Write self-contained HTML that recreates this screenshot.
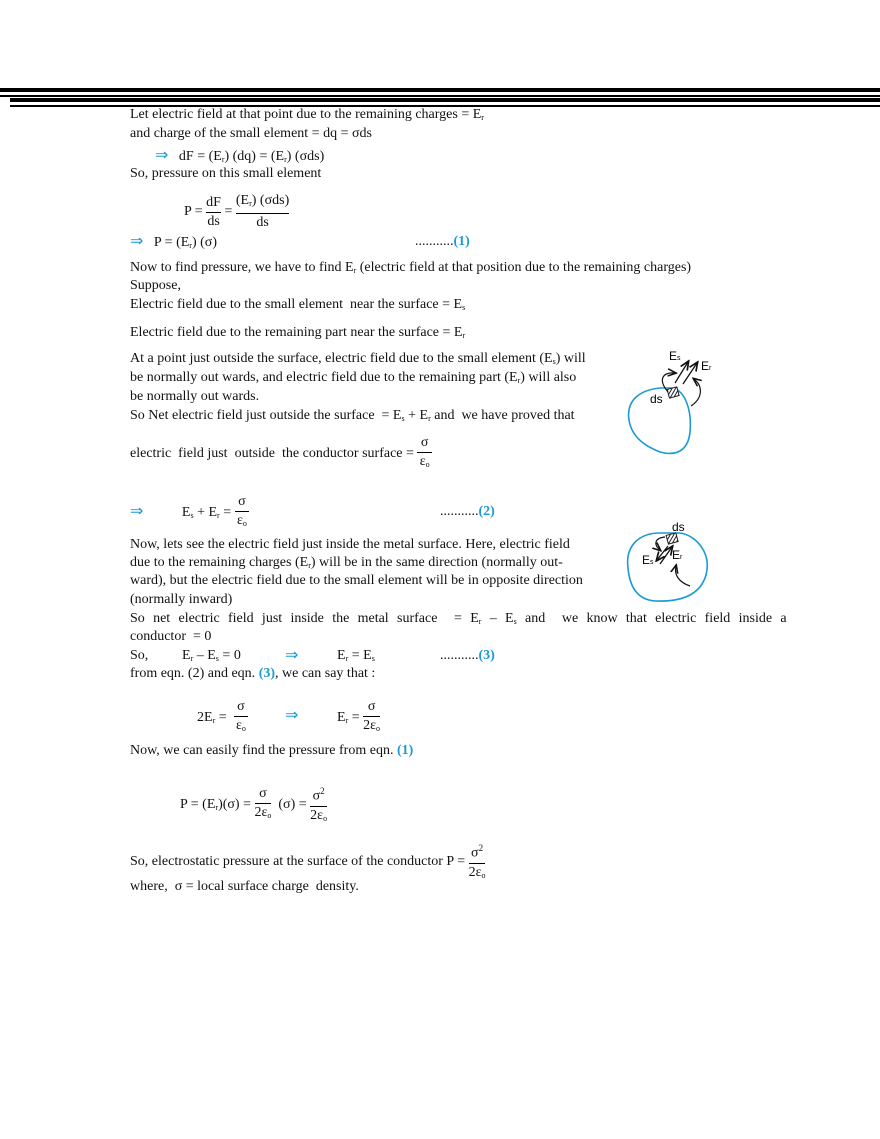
<!DOCTYPE html>
<html><head><meta charset="utf-8"><style>
body{margin:0;width:880px;height:1139px;background:#fff;position:relative;overflow:hidden;font-family:"Liberation Serif",serif;font-size:14px;color:#111}
.l{position:absolute;white-space:nowrap;line-height:16px}
.b{color:#1a9ad6;font-weight:bold}
.bar{position:absolute;background:#000}
sub{font-size:8px;vertical-align:-2px}
sup{font-size:9px}
.fr{display:inline-block;text-align:center;vertical-align:middle}
.fr span{display:block;line-height:18px}
.fr .n{border-bottom:1px solid #000}
.ar{color:#1a9ad6;font-size:16px}
</style></head><body>
<div class="bar" style="left:0;top:88px;width:880px;height:4px"></div>
<div class="bar" style="left:0;top:95px;width:880px;height:1.5px"></div>
<div class="bar" style="left:10px;top:98px;width:870px;height:4px"></div>
<div class="bar" style="left:10px;top:105px;width:870px;height:1.5px"></div>

<div class="l" style="left:130px;top:107px">Let electric field at that point due to the remaining charges = E<sub>r</sub></div>
<div class="l" style="left:130px;top:126px">and charge of the small element = dq = σds</div>
<div class="l" style="left:155px;top:148px"><span class="ar">⇒</span> &nbsp; dF = (E<sub>r</sub>) (dq) = (E<sub>r</sub>) (σds)</div>
<div class="l" style="left:130px;top:166px">So, pressure on this small element</div>
<div class="l" style="left:184px;top:192px">P = <span class="fr"><span class="n">dF</span><span>ds</span></span> = <span class="fr"><span class="n">(E<sub>r</sub>) (σds)</span><span>ds</span></span></div>
<div class="l" style="left:130px;top:234px"><span class="ar">⇒</span> &nbsp; P = (E<sub>r</sub>) (σ)</div>
<div class="l" style="left:415px;top:234px">...........<span class="b">(1)</span></div>
<div class="l" style="left:130px;top:260px">Now to find pressure, we have to find E<sub>r</sub> (electric field at that position due to the remaining charges)</div>
<div class="l" style="left:130px;top:278px">Suppose,</div>
<div class="l" style="left:130px;top:297px">Electric field due to the small element &nbsp;near the surface = E<sub>s</sub></div>
<div class="l" style="left:130px;top:325px">Electric field due to the remaining part near the surface = E<sub>r</sub></div>
<div class="l" style="left:130px;top:351px">At a point just outside the surface, electric field due to the small element (E<sub>s</sub>) will</div>
<div class="l" style="left:130px;top:370px">be normally out wards, and electric field due to the remaining part (E<sub>r</sub>) will also</div>
<div class="l" style="left:130px;top:389px">be normally out wards.</div>
<div class="l" style="left:130px;top:408px">So Net electric field just outside the surface &nbsp;= E<sub>s</sub> + E<sub>r</sub> and &nbsp;we have proved that</div>
<div class="l" style="left:130px;top:434px">electric &nbsp;field just &nbsp;outside &nbsp;the conductor surface = <span class="fr"><span class="n">&nbsp;σ&nbsp;</span><span>ε<sub>o</sub></span></span></div>
<div class="l" style="left:130px;top:493px"><span class="ar">⇒</span> &nbsp; &nbsp; &nbsp; &nbsp; &nbsp; E<sub>s</sub> + E<sub>r</sub> = <span class="fr"><span class="n">&nbsp;σ&nbsp;</span><span>ε<sub>o</sub></span></span></div>
<div class="l" style="left:440px;top:504px">...........<span class="b">(2)</span></div>
<div class="l" style="left:130px;top:537px">Now, lets see the electric field just inside the metal surface. Here, electric field</div>
<div class="l" style="left:130px;top:555px">due to the remaining charges (E<sub>r</sub>) will be in the same direction (normally out-</div>
<div class="l" style="left:130px;top:573px">ward), but the electric field due to the small element will be in opposite direction</div>
<div class="l" style="left:130px;top:592px">(normally inward)</div>
<div class="l" style="left:130px;top:611px;word-spacing:4.8px">So net electric field just inside the metal surface &nbsp;= E<sub>r</sub> – E<sub>s</sub> and &nbsp;we know that electric field inside a</div>
<div class="l" style="left:130px;top:629px">conductor &nbsp;= 0</div>
<div class="l" style="left:130px;top:648px">So,</div>
<div class="l" style="left:182px;top:648px">E<sub>r</sub> – E<sub>s</sub> = 0</div>
<div class="l" style="left:285px;top:648px"><span class="ar">⇒</span></div>
<div class="l" style="left:337px;top:648px">E<sub>r</sub> = E<sub>s</sub></div>
<div class="l" style="left:440px;top:648px">...........<span class="b">(3)</span></div>
<div class="l" style="left:130px;top:666px">from eqn. (2) and eqn. <span class="b">(3)</span>, we can say that :</div>
<div class="l" style="left:197px;top:698px">2E<sub>r</sub> = &nbsp;<span class="fr"><span class="n">&nbsp;σ&nbsp;</span><span>ε<sub>o</sub></span></span></div>
<div class="l" style="left:285px;top:708px"><span class="ar">⇒</span></div>
<div class="l" style="left:337px;top:698px">E<sub>r</sub> = <span class="fr"><span class="n">&nbsp;σ&nbsp;</span><span>2ε<sub>o</sub></span></span></div>
<div class="l" style="left:130px;top:743px">Now, we can easily find the pressure from eqn. <span class="b">(1)</span></div>
<div class="l" style="left:180px;top:782px">P = (E<sub>r</sub>)(σ) = <span class="fr"><span class="n">&nbsp;σ&nbsp;</span><span>2ε<sub>o</sub></span></span> &nbsp;(σ) = <span class="fr"><span class="n">σ<sup>2</sup></span><span>2ε<sub>o</sub></span></span></div>
<div class="l" style="left:130px;top:839px">So, electrostatic pressure at the surface of the conductor P = <span class="fr"><span class="n">σ<sup>2</sup></span><span>2ε<sub>o</sub></span></span></div>
<div class="l" style="left:130px;top:879px">where, &nbsp;σ = local surface charge &nbsp;density.</div>

<svg style="position:absolute;left:0;top:0" width="880" height="1139">
<defs><marker id="a" markerWidth="8" markerHeight="8" refX="6" refY="4" orient="auto"><path d="M0,1 L7,4 L0,7" fill="none" stroke="#111" stroke-width="1.3"/></marker>
<pattern id="h" width="3" height="3" patternUnits="userSpaceOnUse" patternTransform="rotate(45)"><rect width="3" height="3" fill="#fff"/><line x1="0" y1="0" x2="0" y2="3" stroke="#222" stroke-width="2"/></pattern></defs>
<path d="M660,388 C640,390 626,400 629,420 C632,440 650,448 660,452 C675,456 688,452 690,432 C692,410 685,390 672,388 Z" fill="none" stroke="#1a9ad6" stroke-width="1.6"/>
<rect x="668" y="388" width="10" height="9" fill="url(#h)" stroke="#222" stroke-width="1" transform="rotate(-15 673 392)"/>
<text x="650" y="403" font-family="Liberation Sans" font-size="12">ds</text>
<text x="669" y="360" font-family="Liberation Sans" font-size="12">E<tspan font-size="7">s</tspan></text>
<text x="701" y="370" font-family="Liberation Sans" font-size="12">E<tspan font-size="7">r</tspan></text>
<line x1="675" y1="383" x2="688" y2="362" stroke="#111" stroke-width="1.3" marker-end="url(#a)"/>
<line x1="683" y1="384" x2="697" y2="363" stroke="#111" stroke-width="1.3" marker-end="url(#a)"/>
<path d="M668,392 C658,380 662,372 675,373" fill="none" stroke="#111" stroke-width="1.2" marker-end="url(#a)"/>
<path d="M691,406 C703,398 703,386 694,379" fill="none" stroke="#111" stroke-width="1.2" marker-end="url(#a)"/>
<path d="M660,533 C640,533 625,545 628,568 C630,590 640,600 655,601 C680,602 700,596 706,575 C712,552 695,535 680,533 Z" fill="none" stroke="#1a9ad6" stroke-width="1.6"/>
<rect x="667" y="534" width="10" height="9" fill="url(#h)" stroke="#222" stroke-width="1" transform="rotate(-15 672 538)"/>
<text x="672" y="531" font-family="Liberation Sans" font-size="12">ds</text>
<text x="642" y="564" font-family="Liberation Sans" font-size="12">E<tspan font-size="7">s</tspan></text>
<text x="672" y="559" font-family="Liberation Sans" font-size="12">E<tspan font-size="7">r</tspan></text>
<line x1="668" y1="546" x2="657" y2="560" stroke="#111" stroke-width="1.3" marker-end="url(#a)"/>
<line x1="660" y1="564" x2="672" y2="547" stroke="#111" stroke-width="1.3" marker-end="url(#a)"/>
<path d="M665,537 C655,538 653,544 660,550" fill="none" stroke="#111" stroke-width="1.2" marker-end="url(#a)"/>
<path d="M690,586 C678,582 674,574 676,566" fill="none" stroke="#111" stroke-width="1.2" marker-end="url(#a)"/>
</svg>
</body></html>
